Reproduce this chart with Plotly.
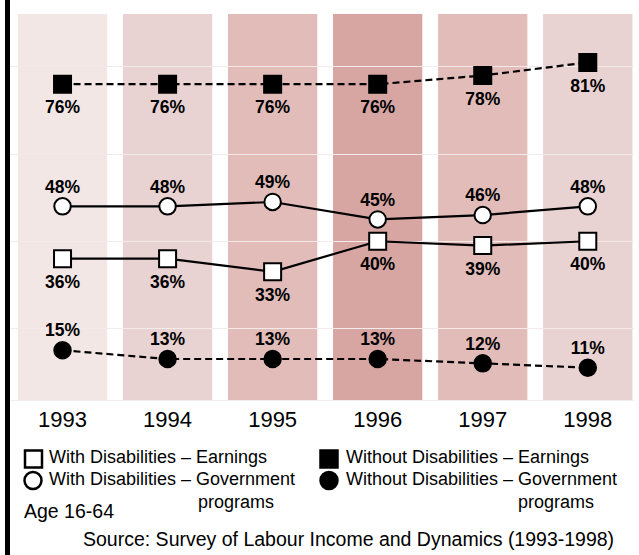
import plotly.graph_objects as go

# data
years = [1993, 1994, 1995, 1996, 1997, 1998]
with_earnings = [36, 36, 33, 40, 39, 40]
with_government = [48, 48, 49, 45, 46, 48]
without_earnings = [76, 76, 76, 76, 78, 81]
without_government = [15, 13, 13, 13, 12, 11]
column_colors = ["#f3e7e6", "#e9d2d2", "#e1bcb9", "#d7a6a3", "#e1bcb9", "#e9d2d2"]

FONT = "Liberation Sans, Arial, sans-serif"
W, H = 639, 555
L, R, T, B = 10, 5, 14, 155
PW, PH = W - L - R, H - T - B


# pixel -> paper helpers for the hand placed legend / notes
def px_x(p):
    return (p - L) / PW


def px_y(p):
    return (H - B - p) / PH


fig = go.Figure()

# shaded column behind every year
for yr, col in zip(years, column_colors):
    fig.add_shape(type="rect", xref="x", yref="paper", x0=yr - 0.425, x1=yr + 0.425,
                  y0=0, y1=1, fillcolor=col, line_width=0, layer="below")


def add_series(vals, symbol, fill, size, dash, textpos, label_size):
    fig.add_trace(go.Scatter(
        x=years, y=vals, mode="lines+markers",
        line=dict(color="black", width=2.2, dash=dash),
        marker=dict(symbol=symbol, size=size, color=fill, line=dict(color="black", width=2)),
        showlegend=False, hoverinfo="skip",
    ))
    # value labels (invisible marker only sets the text offset)
    fig.add_trace(go.Scatter(
        x=years, y=vals, mode="markers+text",
        text=[f"{v}%" for v in vals], textposition=textpos,
        textfont=dict(family=FONT, size=17.5, color="black", weight="bold"),
        marker=dict(size=label_size, color="rgba(0,0,0,0)"),
        showlegend=False, hoverinfo="skip",
    ))


add_series(without_earnings, "square", "black", 17, "7px,4px", "bottom center", 24)
add_series(with_government, "circle", "white", 16.5, "solid", "top center", 13.5)
add_series(with_earnings, "square", "white", 17, "solid", "bottom center", 24)
add_series(without_government, "circle", "black", 16.5, "7px,4px", "top center", 13.5)

# black bar down the left edge
fig.add_shape(type="rect", xref="paper", yref="paper", x0=px_x(5), x1=px_x(10),
              y0=px_y(H), y1=px_y(0), fillcolor="black", line_width=0)

# legend keys
key_style = [
    ("rect", 33.5, 459, "white"),
    ("circle", 33, 480.5, "white"),
    ("rect", 329, 459, "black"),
    ("circle", 329, 480.5, "black"),
]
for kind, cx, cy, fill in key_style:
    fig.add_shape(type=kind, xref="paper", yref="paper",
                  x0=px_x(cx - 8.5), x1=px_x(cx + 8.5), y0=px_y(cy + 8.5), y1=px_y(cy - 8.5),
                  fillcolor=fill, line=dict(color="black", width=2.5))

EM, NB = "\u2003", "\u00a0"
notes = [
    ("With Disabilities – Earnings", 47, 457, 18),
    ("With Disabilities – Government<br>" + EM * 8 + NB + "programs", 47, 490, 18),
    ("Without Disabilities – Earnings", 344, 457, 18),
    ("Without Disabilities – Government<br>" + EM * 9 + NB * 2 + "programs", 344, 490, 18),
    ("Age 16-64", 22, 511, 19.5),
]
annotations = [
    dict(text=t, xref="paper", yref="paper", x=px_x(x), y=px_y(y), xanchor="left",
         yanchor="middle", align="left", showarrow=False,
         font=dict(family=FONT, size=s, color="black"))
    for t, x, y, s in notes
]
annotations.append(dict(
    text="Source: Survey of Labour Income and Dynamics (1993-1998)",
    xref="paper", yref="paper", x=px_x(348.5), y=px_y(539), xanchor="center",
    yanchor="middle", showarrow=False, font=dict(family=FONT, size=19.5, color="black"),
))

fig.update_layout(
    width=W, height=H,
    margin=dict(l=L, r=R, t=T, b=B),
    plot_bgcolor="white", paper_bgcolor="white",
    font=dict(family=FONT, color="black"),
    showlegend=False,
    xaxis=dict(range=[1992.5, 1998.44], tickvals=years, ticktext=[str(y) for y in years],
               tickfont=dict(size=22, color="black"), showgrid=False, zeroline=False,
               showline=True, linecolor="#f4eaea", linewidth=1, ticks="",
               ticklabelstandoff=0),
    yaxis=dict(range=[3.6, 92.1], dtick=20, tick0=0, showticklabels=False,
               gridcolor="#f4eaea", gridwidth=1, zeroline=False, showline=False),
    annotations=annotations,
)

fig.write_html("out.html", config={"displayModeBar": False},
               post_script="document.body.style.margin='0';")
